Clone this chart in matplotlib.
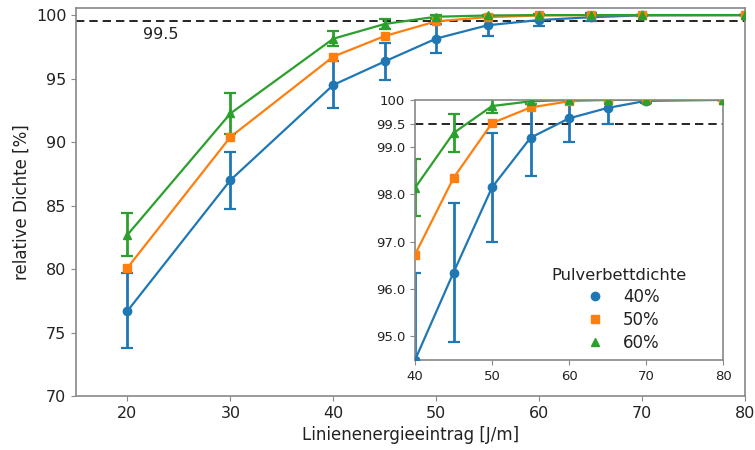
import matplotlib
matplotlib.use("Agg")
import matplotlib.pyplot as plt

x_energy = [20, 30, 40, 45, 50, 55, 60, 65, 70, 80]
series_labels = ["40%", "50%", "60%"]
dens_40 = [76.7, 87.0, 94.5, 96.35, 98.15, 99.2, 99.61, 99.83, 99.98, 100.0]
err_40 = [2.95, 2.25, 1.85, 1.47, 1.16, 0.81, 0.5, 0.33, 0.05, 0.0]
dens_50 = [80.1, 90.4, 96.73, 98.35, 99.51, 99.84, 99.97, 100.0, 100.0, 100.0]
err_50 = [0.0, 0.0, 0.0, 0.0, 0.0, 0.0, 0.0, 0.0, 0.0, 0.0]
dens_60 = [82.7, 92.25, 98.14, 99.3, 99.87, 99.97, 100.0, 100.0, 100.0, 100.0]
err_60 = [1.7, 1.6, 0.6, 0.4, 0.15, 0.05, 0.0, 0.0, 0.0, 0.0]
threshold = 99.5
main_yticks = [70, 75, 80, 85, 90, 95, 100]
main_xticks = [20, 30, 40, 50, 60, 70, 80]
inset_yticks = [95.0, 96.0, 97.0, 98.0, 99.0, 99.5, 100]
inset_yticklabels = ["95.0", "96.0", "97.0", "98.0", "99.0", "99.5", "100"]
inset_xticks = [40, 50, 60, 70, 80]

colors = ["#1f77b4", "#ff7f0e", "#2ca02c"]
markers = ["o", "s", "^"]
msizes = [6, 6, 6]
data = [(dens_40, err_40), (dens_50, err_50), (dens_60, err_60)]

spine_c = "#888888"
text_c = "#222222"

fig = plt.figure(figsize=(7.55, 4.5), dpi=100)
ax = fig.add_axes([0.1007, 0.12, 0.886, 0.862])
ins = fig.add_axes([0.5497, 0.2, 0.408, 0.578])


def draw(a):
    hs = []
    for (y, e), c, m, ms, lab in zip(data, colors, markers, msizes, series_labels):
        a.plot(x_energy, y, color=c, lw=1.6, zorder=2)
        if any(v > 0 for v in e):
            a.errorbar(x_energy, y, yerr=e, fmt="none", ecolor=c, elinewidth=2,
                       capsize=4, capthick=1.6, zorder=2)
        h, = a.plot(x_energy, y, ls="none", marker=m, ms=ms, color=c,
                    label=lab, zorder=3)
        hs.append(h)
    a.axhline(threshold, color="black", ls=(0, (5, 3)), lw=1.2, zorder=1)
    for s in a.spines.values():
        s.set_color(spine_c)
        s.set_linewidth(1.2)
    a.tick_params(color=spine_c, labelcolor=text_c)
    return hs


handles = draw(ax)
ax.set_xlim(15, 80)
ax.set_ylim(70, 100.55)
ax.set_xticks(main_xticks)
ax.set_yticks(main_yticks)
ax.tick_params(labelsize=11.5)
ax.set_xlabel("Linienenergieeintrag [J/m]", fontsize=12, color=text_c)
ax.set_ylabel("relative Dichte [%]", fontsize=12, color=text_c)
ax.text(21.5, 98.5, "99.5", fontsize=11.5, color=text_c, va="center", ha="left")

draw(ins)
ins.set_xlim(40, 80)
ins.set_ylim(94.5, 100)
ins.set_xticks(inset_xticks)
ins.set_yticks(inset_yticks)
ins.set_yticklabels(inset_yticklabels)
ins.tick_params(labelsize=9.5)

leg = ins.legend(handles=handles, title="Pulverbettdichte", loc="lower right",
                 bbox_to_anchor=(0.93, -0.025), frameon=False, fontsize=12,
                 title_fontsize=11.8, handletextpad=0.7, labelspacing=0.3)
leg.get_title().set_color(text_c)
for t in leg.get_texts():
    t.set_color(text_c)

fig.savefig("out.png", dpi=100)
